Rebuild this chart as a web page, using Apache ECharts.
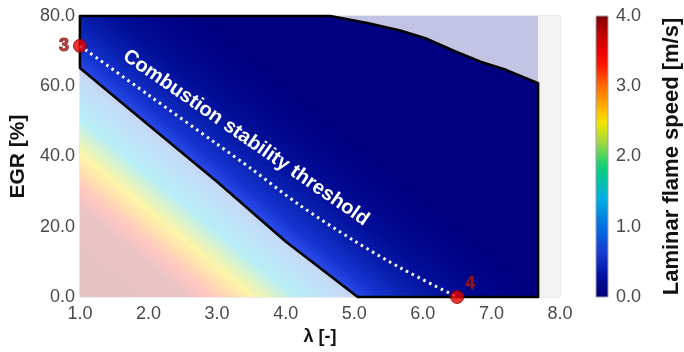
<!DOCTYPE html>
<html>
<head>
<meta charset="utf-8">
<script src="https://cdn.jsdelivr.net/npm/echarts@6/dist/echarts.min.js"></script>
<style>
  html, body { margin: 0; padding: 0; background: #fff; }
  #chart { width: 684px; height: 352px; }
</style>
</head>
<body>
<div id="chart"></div>
<script>
// Axis ticks
const lambdaTicks = [1, 2, 3, 4, 5, 6, 7, 8];
const egrTicks = [0, 20, 40, 60, 80];
const speedTicks = [0, 1, 2, 3, 4];

// Lower-left edge of the slow-flame operating region [λ, EGR %]
const fastEdge = [[1.0, 65.2], [2.0, 49.0], [3.0, 32.8], [4.0, 15.8], [5.05, 0]];
// Upper-right edge of the operating region [λ, EGR %]
const upperEdge = [[4.65, 80], [5.19, 78.0], [5.67, 75.9], [6.06, 73.5], [6.45, 70.1],
                   [6.84, 67.0], [7.22, 64.6], [7.68, 60.9]];
const lambdaLimit = 7.68;

// Combustion stability threshold between state 3 and state 4
const thresholdLine = [[1.0, 71.5], [2.0, 57.5], [3.0, 43.5], [3.5, 36.5], [4.2, 26.2],
                       [5.0, 16.0], [5.7, 8.0], [6.5, 0]];
const stateNames = ['3', '4'];
const statePoints = [[1.0, 71.5], [6.5, 0]];
const thresholdText = 'Combustion stability threshold';
const thresholdTextAt = [3.42, 45.3];

const FONT = 'Liberation Sans, Arial, sans-serif';
const egrMin = egrTicks[0], egrMax = egrTicks[egrTicks.length - 1];
const lamMin = lambdaTicks[0], lamMax = lambdaTicks[lambdaTicks.length - 1];

// Jet-style colour ramp for laminar flame speed, top (4.0) to bottom (0.0)
const jetStops = [
  [0.00, '#7a0000'], [0.05, '#b00000'], [0.125, '#e80000'], [0.18, '#ff1a00'],
  [0.25, '#ff6a00'], [0.2875, '#ff8c00'], [0.35, '#ffc800'], [0.3825, '#f0e400'],
  [0.45, '#a0d840'], [0.525, '#20d070'], [0.56, '#00cc88'], [0.645, '#00b0e0'],
  [0.75, '#0070e0'], [0.845, '#1838d0'], [0.925, '#0010a0'], [1.00, '#000070']
].map(s => ({ offset: s[0], color: s[1] }));

// Direction across the fast-flame edge in pixels (normal points into the dark region)
function edgeFrame(api) {
  const a = api.coord(fastEdge[0]);
  const b = api.coord(fastEdge[fastEdge.length - 1]);
  const dx = b[0] - a[0], dy = b[1] - a[1], len = Math.hypot(dx, dy);
  return { n: [dy / len, -dx / len], m: [(a[0] + b[0]) / 2, (a[1] + b[1]) / 2] };
}

function polygonOf(api, pts) {
  return pts.map(p => api.coord(p));
}

// Faded high-speed zone below the edge
function renderFastZone(params, api) {
  const f = edgeFrame(api);
  const L = 180;
  const grad = new echarts.graphic.LinearGradient(
    f.m[0], f.m[1], f.m[0] - f.n[0] * L, f.m[1] - f.n[1] * L,
    [
      { offset: 0.00, color: '#c6d6f6' }, { offset: 0.10, color: '#c0e2f8' },
      { offset: 0.22, color: '#b8eef6' }, { offset: 0.30, color: '#def4c6' },
      { offset: 0.37, color: '#fff4a8' }, { offset: 0.46, color: '#ffd8b4' },
      { offset: 0.52, color: '#ffc6c2' }, { offset: 0.60, color: '#eac4c4' },
      { offset: 1.00, color: '#e2c2c2' }
    ], true);
  const pts = [[lamMin, egrMin]].concat(fastEdge);
  return { type: 'polygon', shape: { points: polygonOf(api, pts) }, style: { fill: grad } };
}

// Dark operating region with black outline
function renderSlowZone(params, api) {
  const f = edgeFrame(api);
  const L = 120;
  const grad = new echarts.graphic.LinearGradient(
    f.m[0], f.m[1], f.m[0] + f.n[0] * L, f.m[1] + f.n[1] * L,
    [
      { offset: 0.00, color: '#2848e8' }, { offset: 0.12, color: '#1434d0' },
      { offset: 0.30, color: '#0820b0' }, { offset: 0.50, color: '#020e98' },
      { offset: 0.75, color: '#000488' }, { offset: 1.00, color: '#000080' }
    ], true);
  const pts = [[lamMin, egrMax]]
    .concat(upperEdge)
    .concat([[lambdaLimit, egrMin]])
    .concat(fastEdge.slice().reverse());
  return {
    type: 'polygon', shape: { points: polygonOf(api, pts) },
    style: { fill: grad, stroke: '#000', lineWidth: 2.6, lineJoin: 'round' }
  };
}

// Lavender zone above the upper edge and pale strip beyond the λ limit
function renderOuterZones(params, api) {
  const lav = upperEdge.concat([[lambdaLimit, egrMax]]);
  const strip = [[lambdaLimit, egrMin], [lamMax, egrMin], [lamMax, egrMax], [lambdaLimit, egrMax]];
  return {
    type: 'group', children: [
      { type: 'polygon', shape: { points: polygonOf(api, lav) }, style: { fill: '#c3c3e3' } },
      { type: 'polygon', shape: { points: polygonOf(api, strip) }, style: { fill: '#f3f3f3' } }
    ]
  };
}

function renderThresholdText(params, api) {
  const p = api.coord([api.value(0), api.value(1)]);
  return {
    type: 'text', x: p[0], y: p[1], rotation: -0.605,
    style: {
      text: thresholdText, fill: '#ffffff', font: 'bold 20px ' + FONT,
      align: 'center', verticalAlign: 'middle'
    }
  };
}

function renderColorBar(params, api) {
  const tl = api.coord([0, speedTicks[speedTicks.length - 1]]);
  const br = api.coord([1, speedTicks[0]]);
  return {
    type: 'rect',
    shape: { x: tl[0], y: tl[1], width: br[0] - tl[0], height: br[1] - tl[1] },
    style: {
      fill: new echarts.graphic.LinearGradient(0, 0, 0, 1, jetStops),
      stroke: '#9aa4b4', lineWidth: 1
    }
  };
}

const tickLabel = { color: '#4a4a4a', fontSize: 18, fontFamily: FONT, formatter: v => v.toFixed(1) };
const titleStyle = { color: '#111', fontWeight: 'bold', fontFamily: FONT };

const chart = echarts.init(document.getElementById('chart'), null, { renderer: 'canvas' });
chart.setOption({
  animation: false,
  backgroundColor: '#ffffff',
  grid: [
    { left: 79, right: 124, top: 16, bottom: 55, show: true, borderColor: '#dadada', borderWidth: 1 },
    { left: 596, width: 21, top: 16, bottom: 55 }
  ],
  xAxis: [
    {
      type: 'value', gridIndex: 0, min: lamMin, max: lamMax, interval: lambdaTicks[1] - lambdaTicks[0],
      axisLine: { show: false }, axisTick: { show: false }, splitLine: { show: false },
      axisLabel: Object.assign({ margin: 8 }, tickLabel),
      name: 'λ [-]', nameLocation: 'middle', nameGap: 30,
      nameTextStyle: Object.assign({ fontSize: 18 }, titleStyle)
    },
    { type: 'value', gridIndex: 1, min: 0, max: 1, show: false }
  ],
  yAxis: [
    {
      type: 'value', gridIndex: 0, min: egrMin, max: egrMax, interval: egrTicks[1] - egrTicks[0],
      axisLine: { show: false }, axisTick: { show: false }, splitLine: { show: false },
      axisLabel: Object.assign({ margin: 5 }, tickLabel),
      name: 'EGR [%]', nameLocation: 'middle', nameGap: 45,
      nameTextStyle: Object.assign({ fontSize: 21 }, titleStyle)
    },
    {
      type: 'value', gridIndex: 1, position: 'right',
      min: speedTicks[0], max: speedTicks[speedTicks.length - 1], interval: speedTicks[1] - speedTicks[0],
      axisLine: { show: false }, axisTick: { show: false }, splitLine: { show: false },
      axisLabel: Object.assign({ margin: 8 }, tickLabel),
      name: 'Laminar flame speed [m/s]', nameLocation: 'middle', nameGap: 53, nameRotate: 90,
      nameTextStyle: Object.assign({ fontSize: 22 }, titleStyle)
    }
  ],
  series: [
    { type: 'custom', xAxisIndex: 0, yAxisIndex: 0, z: 1, silent: true, data: [[0]], renderItem: renderOuterZones },
    { type: 'custom', xAxisIndex: 0, yAxisIndex: 0, z: 1, silent: true, data: [[0]], renderItem: renderFastZone },
    { type: 'custom', xAxisIndex: 0, yAxisIndex: 0, z: 2, silent: true, data: [[0]], renderItem: renderSlowZone },
    {
      type: 'line', xAxisIndex: 0, yAxisIndex: 0, z: 3, data: thresholdLine,
      showSymbol: false, smooth: 0.3,
      lineStyle: { color: '#ffffff', width: 3, type: [2.5, 4] }
    },
    {
      type: 'custom', xAxisIndex: 0, yAxisIndex: 0, z: 4, silent: true,
      data: [thresholdTextAt], renderItem: renderThresholdText
    },
    {
      type: 'scatter', xAxisIndex: 0, yAxisIndex: 0, z: 5, clip: false,
      symbolSize: 13,
      itemStyle: { color: '#e60000', borderColor: '#8a0000', borderWidth: 1 },
      label: {
        show: true, formatter: '{b}', fontSize: 18, fontWeight: 'bold', fontFamily: FONT,
        color: '#b01818', textBorderColor: '#5a0000', textBorderWidth: 1
      },
      data: [
        { name: stateNames[0], value: statePoints[0], label: { position: 'left', distance: 4 } },
        { name: stateNames[1], value: statePoints[1], label: { position: 'right', distance: 1, offset: [0, -13] } }
      ]
    },
    { type: 'custom', xAxisIndex: 1, yAxisIndex: 1, z: 1, silent: true, data: [[0]], renderItem: renderColorBar }
  ]
});
</script>
</body>
</html>
